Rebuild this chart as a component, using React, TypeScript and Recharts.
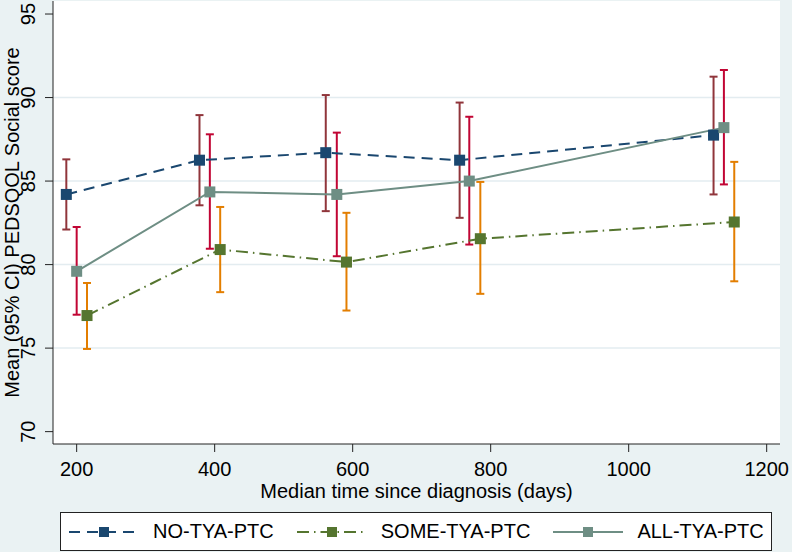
import { LineChart, Line, XAxis, YAxis, CartesianGrid, ErrorBar, Legend, Label } from 'recharts';

// Stata s2color look
const BG = '#eaf2f3';
const FONT = '"Liberation Sans", Arial, sans-serif';

const xTicks = [200, 400, 600, 800, 1000, 1200];
const yTicks = [70, 75, 80, 85, 90, 95];
const gridValues = [75, 80, 85, 90];

// NO-TYA-PTC
const noDays = [185, 378, 561, 755, 1123];
const noMean = [84.2, 86.25, 86.7, 86.25, 87.75];
const noLow = [82.1, 83.55, 83.2, 82.8, 84.2];
const noHigh = [86.3, 88.95, 90.15, 89.7, 91.25];

// SOME-TYA-PTC
const someDays = [215, 408, 591, 785, 1153];
const someMean = [76.95, 80.9, 80.15, 81.55, 82.55];
const someLow = [74.95, 78.35, 77.25, 78.25, 79.0];
const someHigh = [78.9, 83.45, 83.1, 84.95, 86.15];

// ALL-TYA-PTC
const allDays = [200, 393, 577, 769, 1138];
const allMean = [79.6, 84.35, 84.2, 85.0, 88.2];
const allLow = [77.0, 80.95, 80.5, 81.2, 84.8];
const allHigh = [82.25, 87.8, 87.9, 88.85, 91.65];

const build = (days: number[], mean: number[], low: number[], high: number[]) =>
  days.map((d, i) => ({ days: d, mean: mean[i], err: [mean[i] - low[i], high[i] - mean[i]] }));

const series = [
  { name: 'NO-TYA-PTC', data: build(noDays, noMean, noLow, noHigh), color: '#1a476f', ci: '#90353b', dash: '11 7' },
  { name: 'SOME-TYA-PTC', data: build(someDays, someMean, someLow, someHigh), color: '#55752f', ci: '#e37e00', dash: '12 5 1.5 5' },
  { name: 'ALL-TYA-PTC', data: build(allDays, allMean, allLow, allHigh), color: '#6e8e84', ci: '#c10534', dash: undefined },
];

const square = (color: string, size: number) => (p: any) => (
  <rect key={`sq-${color}-${p.index}`} x={p.cx - size / 2} y={p.cy - size / 2} width={size} height={size} fill={color} />
);

// rotated y tick labels, baseline just left of the tick marks
const YTick = ({ y, payload }: any) => {
  const bx = 35;
  return (
    <text x={bx} y={y} transform={`rotate(-90 ${bx} ${y})`} textAnchor="middle" fill="#000" fontSize={20} fontFamily={FONT}>
      {payload.value}
    </text>
  );
};

const YTitle = ({ viewBox }: any) => {
  const cy = viewBox ? viewBox.y + viewBox.height / 2 : 222;
  return (
    <text x={19} y={cy} transform={`rotate(-90 19 ${cy})`} textAnchor="middle" fill="#000" fontSize={20} fontFamily={FONT}>
      Mean (95% CI) PEDSQOL Social score
    </text>
  );
};

const LegendBox = () => (
  <div
    style={{
      boxSizing: 'border-box',
      width: 712,
      height: 39,
      background: '#fff',
      border: '1px solid #222',
      display: 'flex',
      alignItems: 'center',
      paddingLeft: 8,
      fontFamily: FONT,
      fontSize: 20,
      color: '#000',
      whiteSpace: 'nowrap',
    }}
  >
    {series.map((s) => (
      <div key={s.name} style={{ display: 'flex', alignItems: 'center', marginRight: 23, flexShrink: 0 }}>
        <svg width={70} height={14} style={{ marginRight: 14, flexShrink: 0 }}>
          <line x1={0} y1={7} x2={70} y2={7} stroke={s.color} strokeWidth={2} strokeDasharray={s.dash} />
          <rect x={30} y={2} width={10} height={10} fill={s.color} />
        </svg>
        <span>{s.name}</span>
      </div>
    ))}
  </div>
);

export default function App() {
  return (
    <div style={{ position: 'absolute', left: 0, top: 0, width: 792, height: 552, background: BG }}>
      <LineChart width={792} height={552} margin={{ top: 1, right: 12, left: 0, bottom: 0 }}>
        <CartesianGrid vertical={false} horizontalValues={gridValues} stroke="#e3ecf0" strokeWidth={1.5} fill="#fff" fillOpacity={1} />
        <XAxis
          dataKey="days"
          type="number"
          domain={[165.7, 1219.3]}
          allowDataOverflow
          ticks={xTicks}
          height={108}
          tickSize={8}
          tickMargin={10}
          stroke="#222"
          tick={{ fill: '#000', fontSize: 20, fontFamily: FONT }}
          label={{ value: 'Median time since diagnosis (days)', position: 'insideBottom', offset: 54, fill: '#000', fontSize: 20, fontFamily: FONT }}
        />
        <YAxis
          type="number"
          domain={[69.26, 95.78]}
          allowDataOverflow
          ticks={yTicks}
          width={53}
          tickSize={8}
          stroke="#222"
          tick={<YTick />}
        >
          <Label content={<YTitle />} />
        </YAxis>
        {series.map((s) => (
          <Line
            key={`ci-${s.name}`}
            data={s.data}
            dataKey="mean"
            stroke="none"
            dot={false}
            activeDot={false}
            isAnimationActive={false}
            legendType="none"
          >
            <ErrorBar dataKey="err" direction="y" width={4} strokeWidth={2} stroke={s.ci} />
          </Line>
        ))}
        {series.map((s) => (
          <Line
            key={s.name}
            name={s.name}
            data={s.data}
            dataKey="mean"
            type="linear"
            stroke={s.color}
            strokeWidth={2}
            strokeDasharray={s.dash}
            dot={square(s.color, 11)}
            activeDot={false}
            isAnimationActive={false}
          />
        ))}
        <Legend
          layout="vertical"
          align="center"
          verticalAlign="middle"
          wrapperStyle={{ left: 60, top: 512, width: 712, height: 39 }}
          content={<LegendBox />}
        />
      </LineChart>
    </div>
  );
}
